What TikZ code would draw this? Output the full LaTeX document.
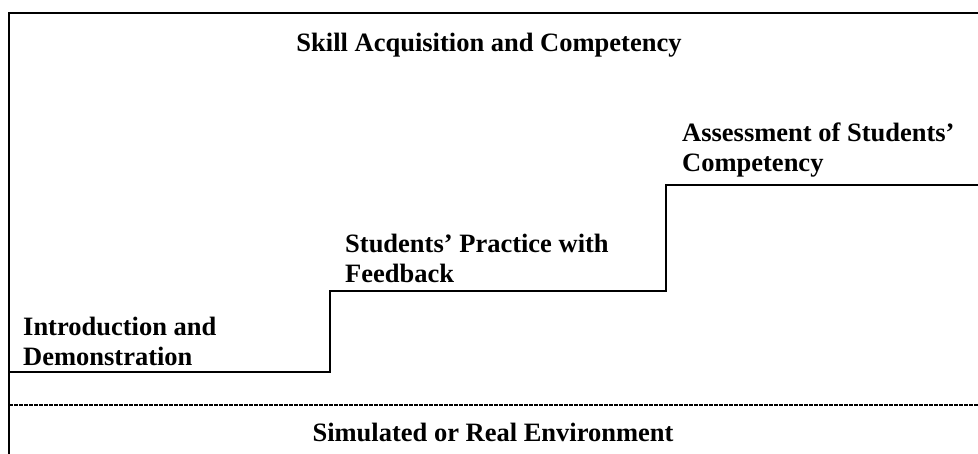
\documentclass[tikz,border=0pt]{standalone}
\usepackage{fontspec}
\setmainfont{Liberation Serif}
\tikzset{
  frame/.style={line width=2pt, line cap=rect},
  stairs/.style={line width=2pt},
  sep/.style={line width=1.4pt, dash pattern=on 3.5pt off 1.5pt},
  lbl/.style={font=\bfseries\fontsize{26.5}{30}\selectfont, inner sep=0pt, align=left, anchor=base west},
  ttl/.style={font=\bfseries\fontsize{26.5}{30}\selectfont, inner sep=0pt, anchor=base},
}
\begin{document}
\begin{tikzpicture}[x=1pt,y=-1pt]
\useasboundingbox (0,0) rectangle (978,454);
\draw[frame] (9,454) -- (9,13) -- (980,13);
\draw[stairs] (9,372) -- (330,372) -- (330,291) -- (666,291) -- (666,185) -- (980,185);
\draw[sep] (9,405) -- (980,405);
\node[ttl] (title) at (489,52) {Skill Acquisition and Competency};
\node[lbl] (intro) at (23,366) {Introduction and\\Demonstration};
\node[lbl] (practice) at (345,283) {Students’ Practice with\\Feedback};
\node[lbl] (assess) at (682,172) {Assessment of Students’\\Competency};
\node[ttl] (env) at (493,442) {Simulated or Real Environment};
\end{tikzpicture}
\end{document}
